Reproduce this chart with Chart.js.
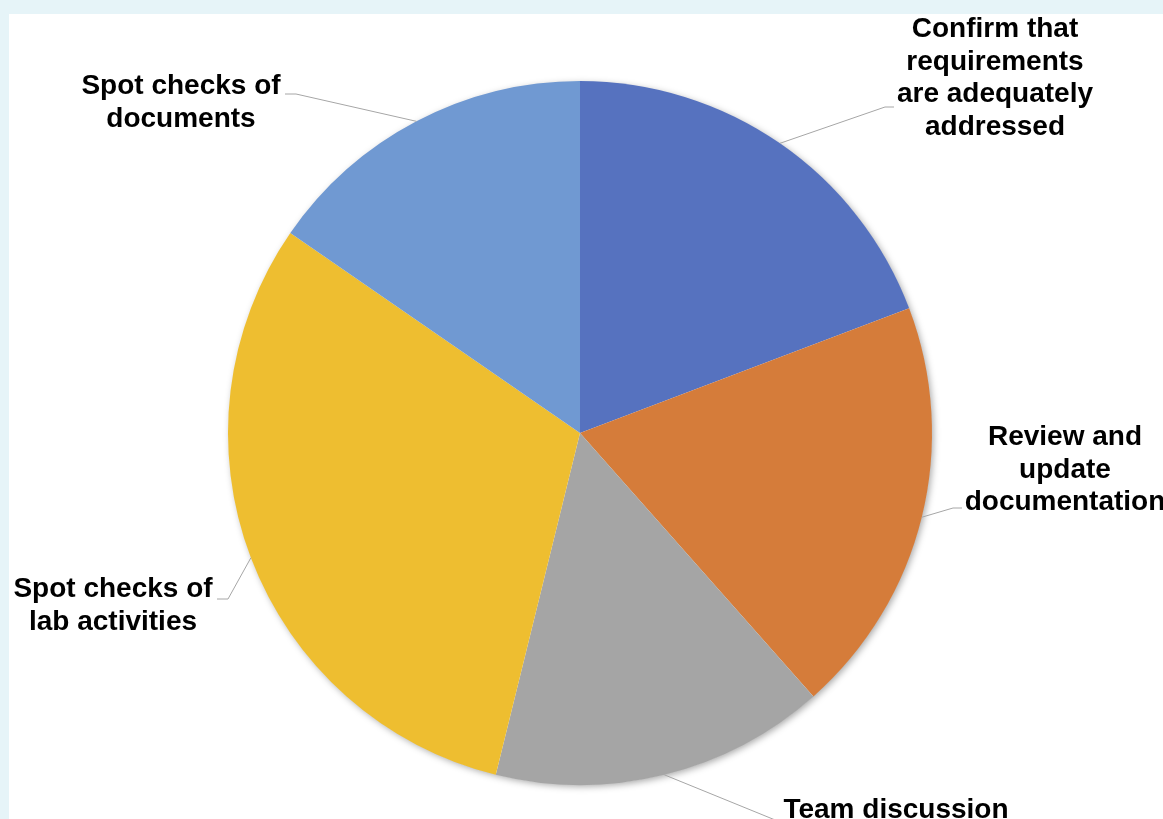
<!DOCTYPE html>
<html>
<head>
<meta charset="utf-8">
<script src="https://cdn.jsdelivr.net/npm/chart.js@4.4.0/dist/chart.umd.min.js"></script>
<style>
  html, body { margin: 0; padding: 0; }
  body { width: 1163px; height: 819px; background: #E6F4F8; position: relative; overflow: hidden; }
  #panel { position: absolute; left: 9px; top: 14px; right: 0; bottom: 0; background: #FFFFFF; }
  #wrap { position: absolute; left: 0; top: 0; width: 1163px; height: 819px; }
</style>
</head>
<body>
<div id="panel"></div>
<div id="wrap"><canvas id="c" width="1163" height="819"></canvas></div>
<script>
// ---- Data ----
const categories = [
  ["Confirm that", "requirements", "are adequately", "addressed"],
  ["Review and", "update", "documentation"],
  ["Team discussion"],
  ["Spot checks of", "lab activities"],
  ["Spot checks of", "documents"]
];
const values = [5, 5, 4, 8, 4];
const colors = ["#5672BF", "#D57C3A", "#A5A5A5", "#EEBE30", "#7099D2"];

// Label placement (offsets from pie centre, px) — styling only
const labelLayout = [
  { tx: 415, ty: -396, elbow: [305, -326], tail: [314, -326] },
  { tx: 485, ty: 12,   elbow: [373, 75],   tail: [382, 75] },
  { tx: 316, ty: 385,  elbow: [205, 391],  tail: [215, 391] },
  { tx: -467, ty: 164, elbow: [-352, 166], tail: [-363, 166] },
  { tx: -399, ty: -339, elbow: [-284, -339], tail: [-295, -339] }
];

const shadowPlugin = {
  id: 'pieShadow',
  beforeDatasetsDraw(chart) {
    const arc = chart.getDatasetMeta(0).data[0];
    if (!arc) return;
    const ctx = chart.ctx;
    ctx.save();
    ctx.shadowColor = 'rgba(0,0,0,0.35)';
    ctx.shadowBlur = 7;
    ctx.shadowOffsetX = 2;
    ctx.shadowOffsetY = 2;
    ctx.fillStyle = '#ffffff';
    ctx.beginPath();
    ctx.arc(arc.x, arc.y, arc.outerRadius - 0.5, 0, Math.PI * 2);
    ctx.fill();
    ctx.restore();
  }
};

const labelPlugin = {
  id: 'leaderLabels',
  afterDatasetsDraw(chart) {
    const ctx = chart.ctx;
    const meta = chart.getDatasetMeta(0);
    ctx.save();
    meta.data.forEach((arc, i) => {
      const L = labelLayout[i];
      const mid = (arc.startAngle + arc.endAngle) / 2;
      const sx = arc.x + Math.cos(mid) * arc.outerRadius;
      const sy = arc.y + Math.sin(mid) * arc.outerRadius;
      ctx.strokeStyle = '#A6A6A6';
      ctx.lineWidth = 1;
      ctx.beginPath();
      ctx.moveTo(sx, sy);
      ctx.lineTo(arc.x + L.elbow[0], arc.y + L.elbow[1]);
      ctx.lineTo(arc.x + L.tail[0], arc.y + L.tail[1]);
      ctx.stroke();
      ctx.fillStyle = '#000000';
      ctx.font = 'bold 28px "Liberation Sans", Arial, sans-serif';
      ctx.textAlign = 'center';
      ctx.textBaseline = 'alphabetic';
      categories[i].forEach((line, k) => {
        ctx.fillText(line, arc.x + L.tx, arc.y + L.ty + k * 32.5);
      });
    });
    ctx.restore();
  }
};

new Chart(document.getElementById('c'), {
  type: 'pie',
  data: {
    labels: categories.map(c => c.join(' ')),
    datasets: [{
      data: values,
      backgroundColor: colors,
      borderWidth: 0
    }]
  },
  options: {
    responsive: false,
    animation: false,
    layout: { padding: { top: 81, bottom: 34, left: 200, right: 203 } },
    plugins: {
      legend: { display: false },
      tooltip: { enabled: false }
    }
  },
  plugins: [shadowPlugin, labelPlugin]
});
</script>
</body>
</html>
